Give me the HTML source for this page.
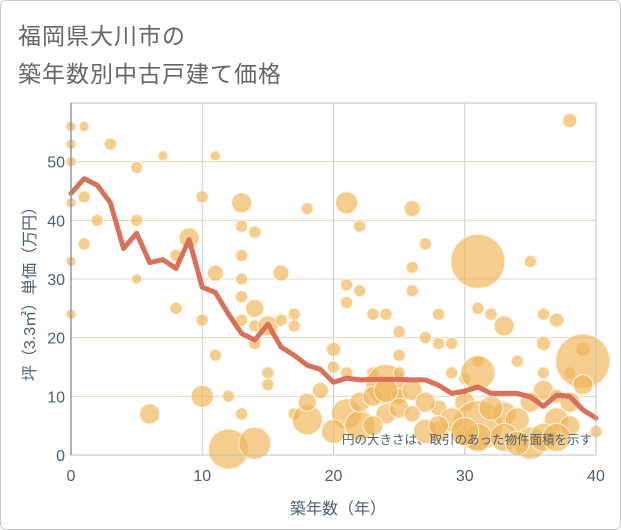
<!DOCTYPE html>
<html><head><meta charset="utf-8"><style>
body{margin:0;background:#fff;}
#card{position:relative;width:619px;height:528px;border:1px solid #ccc;border-radius:6px;background:#fff;overflow:hidden;font-family:"Liberation Sans","Noto Sans CJK JP",sans-serif;}
.title{position:absolute;left:17px;font-size:23px;color:#666;letter-spacing:1px;}
</style></head><body>
<div id="card">
<div class="title" style="top:16px">福岡県大川市の</div>
<div class="title" style="top:54px">築年数別中古戸建て価格</div>
<svg id="chart" width="621" height="530" style="position:absolute;left:-1px;top:-1px"></svg>
</div>
<script>
const xTicks=[0,10,20,30,40];
const yTicks=[0,10,20,30,40,50];
const lineYears=[0,1,2,3,4,5,6,7,8,9,10,11,12,13,14,15,16,17,18,19,20,21,22,23,24,25,26,27,28,29,30,31,32,33,34,35,36,37,38,39,40];
const lineValues=[44.6,47.1,46,43,35.2,37.8,32.8,33.3,31.8,36.7,28.6,27.7,24,20.7,19.6,22.3,18.4,17,15.3,14.6,12.4,13.1,12.8,12.9,12.9,12.9,12.8,12.8,11.9,10.5,10.9,11.6,10.5,10.5,10.5,9.9,8.3,10.2,10,7.7,6.3];
const bubbleX=[0,1,0,0,0,0,0,1,1,2,3,5,5,5,6,7,8,8,9,10,10,10,11,11,11,12,12,13,13,13,13,13,13,13,14,14,14,14,14,15,15,15,16,16,17,17,17,18,18,18,19,20,20,21,21,21,21,21,22,22,22,23,23,24,24,24,25,25,25,25,26,26,26,27,27,28,28,28,28,29,29,30,30,31,31,31,31,31,31,32,33,33,34,34,35,35,36,36,36,36,37,37,37,38,38,38,39,39,39,40,
 20,22,23,24,25,26,27,27,29,30,32,33,34,35,36,38,23,26,28,37];
const bubbleY=[56,56,53,50,43,33,24,44,36,40,53,49,40,30,7,51,34,25,37,44,23,10,51,31,17,1,10,43,39,34,30,27,23,7,38,25,22,19,2,22,14,12,31,23,24,22,7,42,6,9,11,18,15,43,29,26,14,7,39,28,5,24,14,24,12,7,21,17,14,10,42,32,28,36,20,24,19,8,4,19,14,13,9,33,25,16,14,5,3,24,22,7,16,6,33,2,24,19,14,11,23,10,6,57,14,5,18,16,12,4,
 4,9,10,11,8,11,9,4,6,4,8,3,2,9,3,9,5,7,5,3];
const bubbleArea=[25,25,25,25,25,25,25,36,36,36,36,36,36,25,100,25,36,36,100,36,36,121,25,64,36,400,36,100,36,36,36,36,36,36,36,81,36,36,256,100,36,36,64,36,36,36,36,36,225,81,64,49,36,121,36,36,36,225,36,36,225,36,36,36,400,100,36,36,36,64,64,36,36,36,36,36,36,64,100,36,36,36,100,729,36,36,289,625,196,36,100,144,36,144,36,256,36,49,36,100,49,49,144,49,36,100,49,729,100,36,
 144,100,100,144,100,100,100,144,144,196,144,196,144,100,196,100,100,64,100,196];
const svg=document.getElementById('chart');
const NS='http://www.w3.org/2000/svg';
const L=71,R=596,T=103,B=455;
const xs=v=>L+(v/40)*(R-L);
const ys=v=>B-(v/60)*(B-T);
function mk(tag,attrs,parent){const e=document.createElementNS(NS,tag);for(const k in attrs)e.setAttribute(k,attrs[k]);(parent||svg).appendChild(e);return e;}
yTicks.forEach(t=>{if(t===0)return;
 const g=mk('line',{x1:L,x2:R,y1:ys(t),y2:ys(t),stroke:'#e2d6bf','stroke-width':1});
 
 });
xTicks.forEach(t=>{if(t===0||t===40)return;
 const g=mk('line',{x1:xs(t),x2:xs(t),y1:T,y2:B,stroke:'#c5d0da','stroke-width':1});
 
 });
const bg=mk('g',{});


bubbleX.forEach((x,i)=>{
 const c=mk('circle',{cx:xs(x),cy:ys(bubbleY[i]),r:Math.sqrt(bubbleArea[i]),fill:'#f0b55a','fill-opacity':0.68,stroke:'#fff3dc','stroke-width':1},bg);
 
 
});
const pts=lineYears.map((x,i)=>xs(x)+','+ys(lineValues[i])).join(' ');
const pl=mk('polyline',{points:pts,fill:'none',stroke:'#d9705a','stroke-width':5,'stroke-linejoin':'round','stroke-linecap':'round'});


const fr=mk('rect',{x:L,y:T,width:R-L,height:B-T,fill:'none',stroke:'#b8c4ce','stroke-width':1});


const ax=mk('line',{x1:L,x2:L,y1:T,y2:B,stroke:'#8a9aa8','stroke-width':1.5});


yTicks.forEach(t=>{
 const tx=mk('text',{x:L-6,y:ys(t)+6,'text-anchor':'end','font-size':16,fill:'#4d6070'});
 tx.textContent=t;
 
 });
xTicks.forEach(t=>{
 const tx=mk('text',{x:xs(t),y:481,'text-anchor':'middle','font-size':16,fill:'#4d6070'});
 tx.textContent=t;
 
 });
const xt=mk('text',{x:338,y:514,'text-anchor':'middle','font-size':16,fill:'#4d6070','font-family':'"Liberation Sans","Noto Sans CJK JP",sans-serif'});
xt.textContent='築年数（年）';


const yt=mk('text',{x:0,y:0,'text-anchor':'middle','font-size':16,fill:'#4d6070',transform:'translate(35,290) rotate(-90)','font-family':'"Liberation Sans","Noto Sans CJK JP",sans-serif'});
yt.textContent='坪（3.3㎡）単価（万円）';


const note=mk('text',{x:592,y:444,'text-anchor':'end','font-size':12.5,fill:'#4d6070','font-family':'"Liberation Sans","Noto Sans CJK JP",sans-serif'});
note.textContent='円の大きさは、取引のあった物件面積を示す';


</script>
</body></html>
